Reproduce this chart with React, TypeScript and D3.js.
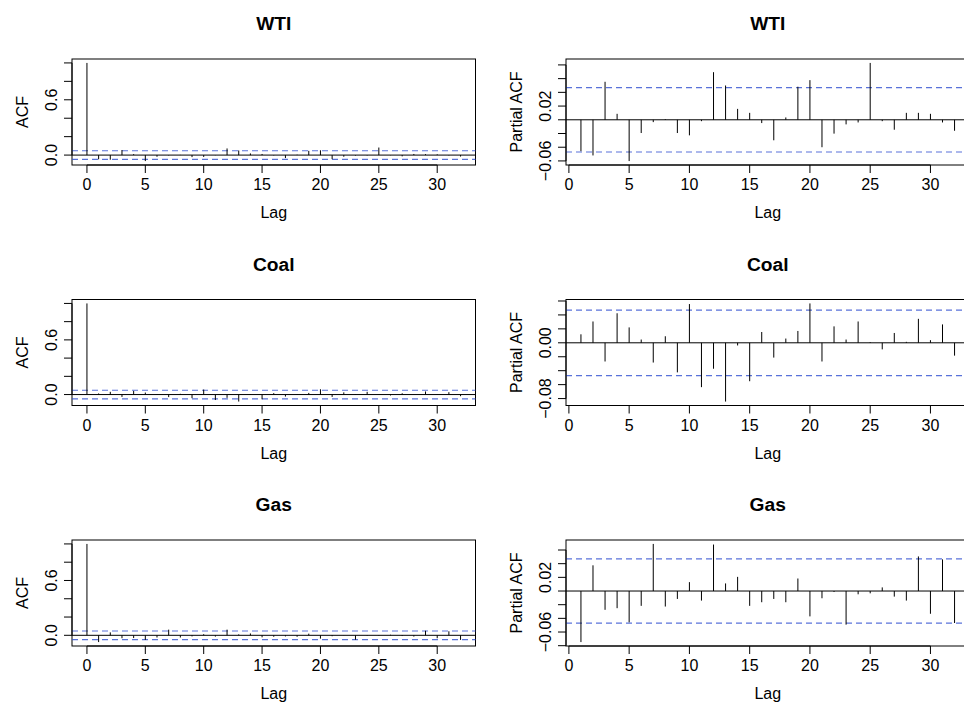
import React from "react";
import * as d3 from "d3";

// series shown in the three rows
const seriesNames = ["WTI", "Coal", "Gas"];

// 95% band, same n for every series
const clim = 0.047;

// ACF, lags 0..32
const wtiAcf = [1, -0.046, -0.05, 0.055, 0.01, -0.065, -0.018, -0.004, 0.002, -0.022, -0.02, -0.002, 0.072, 0.05,
  0.018, 0.012, -0.004, -0.032, 0.004, 0.046, 0.052, -0.044, -0.018, -0.006, -0.004, 0.082, -0.002, -0.014,
  0.012, 0.01, 0.008, -0.004, -0.016];
const coalAcf = [1, 0.012, 0.03, -0.026, 0.04, 0.022, 0.005, -0.028, 0.008, -0.04, 0.055, -0.06, -0.036, -0.077,
  -0.004, -0.052, 0.016, -0.022, 0.006, 0.018, 0.058, -0.026, 0.024, 0.005, 0.03, 0.001, -0.01, 0.014, 0.002,
  0.034, 0.004, 0.026, -0.018];
const gasAcf = [1, -0.074, 0.032, -0.032, -0.03, -0.05, -0.024, 0.062, -0.024, -0.012, 0.012, -0.014, 0.062, 0.01,
  0.02, -0.022, -0.016, -0.012, -0.016, 0.018, -0.036, -0.01, -0.002, -0.048, -0.004, -0.004, 0.006, -0.008,
  -0.014, 0.05, -0.032, 0.044, -0.05];

// partial ACF, lags 1..32
const wtiPacf = [-0.0458, -0.052, 0.0554, 0.0087, -0.0602, -0.0193, -0.0034, 0.001, -0.0193, -0.0227, -0.002,
  0.0694, 0.05, 0.0159, 0.0101, -0.0048, -0.0299, 0.0034, 0.0482, 0.0578, -0.04, -0.0202, -0.0067, -0.0039,
  0.0829, -0.002, -0.0145, 0.0101, 0.0101, 0.0087, -0.0039, -0.016];
const coalPacf = [0.0122, 0.0306, -0.0268, 0.0424, 0.0221, 0.0047, -0.0283, 0.0094, -0.0424, 0.0556, -0.0636,
  -0.0372, -0.0843, -0.0038, -0.0551, 0.0155, -0.0212, 0.0061, 0.017, 0.0565, -0.0268, 0.0236, 0.0047, 0.0306,
  0.001, -0.0094, 0.0141, 0.0014, 0.0344, 0.0038, 0.0264, -0.0184];
const gasPacf = [-0.0747, 0.0376, -0.0275, -0.0251, -0.0458, -0.0217, 0.0689, -0.0227, -0.0116, 0.013, -0.014,
  0.068, 0.0111, 0.0207, -0.0217, -0.0164, -0.0116, -0.0164, 0.0183, -0.0371, -0.0106, -0.0014, -0.0492,
  -0.0048, -0.0034, 0.0053, -0.0082, -0.014, 0.0506, -0.0333, 0.0463, -0.0468];

const acfSeries = [wtiAcf, coalAcf, gasAcf];
const pacfSeries = [wtiPacf, coalPacf, gasPacf];

// tick labels
const lagTicks = [0, 5, 10, 15, 20, 25, 30];
const acfLabelled = [0.0, 0.6];
const pacfLabelled = [[-0.06, 0.02], [-0.08, 0.0], [-0.06, 0.02]];

const W = 964, H = 703;
const plotW = 403.5, plotH = 106;
const rowTop = [59, 299.5, 540];
const colLeft = [72, 566];
const font = "'Liberation Sans', Arial, Helvetica, sans-serif";
const fmt = (v: number, d: number) => (v < 0 ? "\u2212" : "") + Math.abs(v).toFixed(d);

function Panel({ title, ylabel, values, firstLag, left, top, step, labelled, digits }: any) {
  const lags = values.map((_: number, i: number) => i + firstLag);
  const lo0 = Math.min(d3.min(values) as number, -clim);
  const hi0 = Math.max(d3.max(values) as number, clim);
  const pad = (hi0 - lo0) * 0.04;
  const y = d3.scaleLinear().domain([lo0 - pad, hi0 + pad]).range([top + plotH, top]);
  const l0 = lags[0], l1 = lags[lags.length - 1];
  const xPad = (l1 - l0) * 0.04;
  const x = d3.scaleLinear().domain([l0 - xPad, l1 + xPad]).range([left, left + plotW]);
  const yTicks = d3.range(Math.ceil((lo0 - pad) / step - 1e-9), Math.floor((hi0 + pad) / step + 1e-9) + 1)
    .map((k) => +(k * step).toFixed(6));
  const bottom = top + plotH;

  return (
    <g fontFamily={font} fill="#000">
      <text x={left + plotW / 2} y={top - 29} textAnchor="middle" fontWeight="bold" fontSize={19.2}>{title}</text>
      <rect x={left} y={top} width={plotW} height={plotH} fill="none" stroke="#000" strokeWidth={1} />
      {/* confidence band */}
      {[clim, -clim].map((c) => (
        <line key={c} x1={left} x2={left + plotW} y1={y(c)} y2={y(c)} stroke="#2f4fd0" strokeOpacity={0.8}
          strokeWidth={1.2} strokeDasharray="6,4" />
      ))}
      <line x1={left} x2={left + plotW} y1={y(0)} y2={y(0)} stroke="#000" strokeWidth={1} />
      {values.map((v: number, i: number) => (
        <line key={i} x1={x(lags[i])} x2={x(lags[i])} y1={y(0)} y2={y(v)} stroke="#000" strokeWidth={1} />
      ))}
      {/* x axis */}
      <line x1={x(lagTicks[0])} x2={x(lagTicks[lagTicks.length - 1])} y1={bottom} y2={bottom} stroke="#000" />
      {lagTicks.map((t) => (
        <g key={t}>
          <line x1={x(t)} x2={x(t)} y1={bottom} y2={bottom + 8} stroke="#000" />
          <text x={x(t)} y={bottom + 25} textAnchor="middle" fontSize={16}>{t}</text>
        </g>
      ))}
      <text x={left + plotW / 2} y={bottom + 53} textAnchor="middle" fontSize={16}>Lag</text>
      {/* y axis */}
      <line x1={left} x2={left} y1={y(yTicks[0])} y2={y(yTicks[yTicks.length - 1])} stroke="#000" />
      {yTicks.map((t) => (
        <g key={t}>
          <line x1={left - 8} x2={left} y1={y(t)} y2={y(t)} stroke="#000" />
          {labelled.some((v: number) => Math.abs(v - t) < 1e-9) && (
            <text transform={`translate(${left - 15},${y(t)}) rotate(-90)`} textAnchor="middle" fontSize={16}>
              {fmt(t, digits)}
            </text>
          )}
        </g>
      ))}
      <text transform={`translate(${left - 44},${top + plotH / 2}) rotate(-90)`} textAnchor="middle" fontSize={16}>
        {ylabel}
      </text>
    </g>
  );
}

export default function App() {
  return (
    <svg width={W} height={H} style={{ position: "absolute", left: 0, top: 0, display: "block", background: "#fff" }}>
      <rect width={W} height={H} fill="#fff" />
      {seriesNames.map((name, r) => (
        <g key={name}>
          <Panel title={name} ylabel="ACF" values={acfSeries[r]} firstLag={0} left={colLeft[0]} top={rowTop[r]}
            step={0.2} labelled={acfLabelled} digits={1} />
          <Panel title={name} ylabel="Partial ACF" values={pacfSeries[r]} firstLag={1} left={colLeft[1]}
            top={rowTop[r]} step={0.02} labelled={pacfLabelled[r]} digits={2} />
        </g>
      ))}
    </svg>
  );
}
